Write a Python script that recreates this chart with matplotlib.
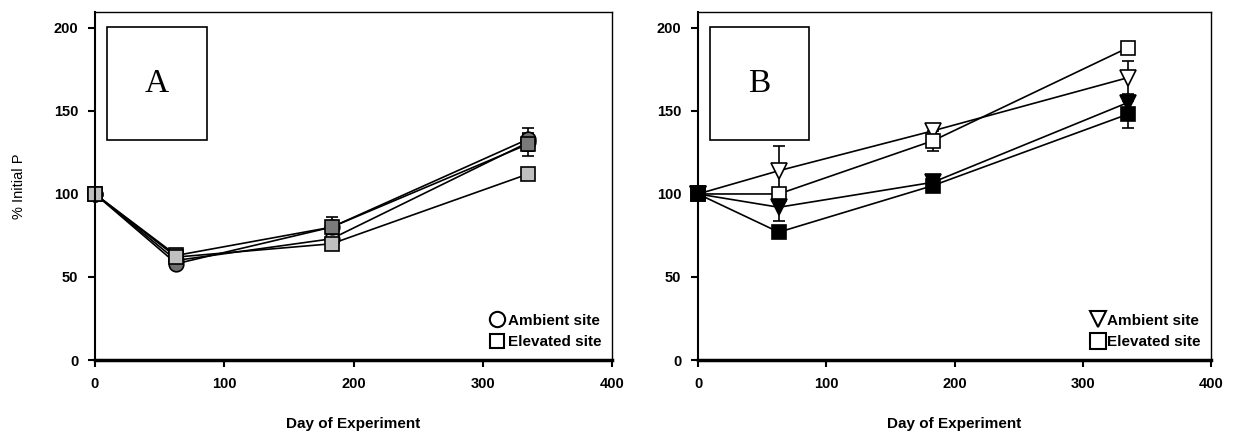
import matplotlib
matplotlib.use("Agg")
import matplotlib.pyplot as plt
from matplotlib.patches import Rectangle
from matplotlib.lines import Line2D

days = [0, 63, 183, 335]

# Panel A
a_circ_dark = [100, 58, 80, 133]
a_circ_dark_err = [0, 2, 3, 7]
a_circ_light = [100, 60, 73, 131]
a_circ_light_err = [0, 2, 2, 5]
a_sq_dark = [100, 63, 80, 130]
a_sq_dark_err = [0, 2, 6, 7]
a_sq_light = [100, 62, 70, 112]
a_sq_light_err = [0, 2, 2, 2]

# Panel B
b_tri_open = [100, 114, 138, 170]
b_tri_open_err = [0, 15, 2, 10]
b_sq_open = [100, 100, 132, 188]
b_sq_open_err = [0, 2, 6, 3]
b_tri_fill = [100, 92, 107, 155]
b_tri_fill_err = [0, 8, 2, 4]
b_sq_fill = [100, 77, 105, 148]
b_sq_fill_err = [0, 2, 2, 8]

xticks = [0, 100, 200, 300, 400]
yticks = [0, 50, 100, 150, 200]

fig = plt.figure(figsize=(12.33, 4.33), dpi=100)
axA = fig.add_axes([95/1233, 1-360/433, 517/1233, 348/433])
axB = fig.add_axes([698/1233, 1-360/433, 513/1233, 348/433])

tickfont = dict(family="Liberation Sans", weight="bold", size=10.5)

def style(ax):
    ax.set_xlim(0, 400)
    ax.set_ylim(0, 209.6)
    ax.set_xticks(xticks)
    ax.set_yticks(yticks)
    ax.set_xticklabels([str(t) for t in xticks], **tickfont)
    ax.set_yticklabels([str(t) for t in yticks], **tickfont)
    ax.tick_params(direction="out", length=5, width=1.5, pad=7, colors="black")
    for s in ["top", "right"]:
        ax.spines[s].set_linewidth(1.0)
    ax.spines["left"].set_linewidth(1.5)
    ax.spines["bottom"].set_linewidth(2.5)
    ax.set_xlabel("Day of Experiment", family="Liberation Sans", weight="bold", size=11, labelpad=19)

def series(ax, y, err, marker, fc, ms=10.5):
    ax.errorbar(days, y, yerr=err, color="black", lw=1.2, marker=marker, ms=ms,
                mfc=fc, mec="black", mew=1.2, capsize=4, elinewidth=1.2, capthick=1.2,
                clip_on=False)

style(axA)
style(axB)
axA.set_ylabel("% Initial P", family="Liberation Sans", size=10.5, labelpad=20)

series(axA, a_circ_light, a_circ_light_err, "o", "#c8c8c8")
series(axA, a_circ_dark, a_circ_dark_err, "o", "#707070")
series(axA, a_sq_dark, a_sq_dark_err, "s", "#7a7a7a")
series(axA, a_sq_light, a_sq_light_err, "s", "#c0c0c0")

series(axB, b_tri_open, b_tri_open_err, "v", "white", ms=11.5)
series(axB, b_sq_open, b_sq_open_err, "s", "white")
series(axB, b_tri_fill, b_tri_fill_err, "v", "black", ms=11.5)
series(axB, b_sq_fill, b_sq_fill_err, "s", "black")

for ax, lab in [(axA, "A"), (axB, "B")]:
    ax.add_patch(Rectangle((0.023, 0.632), 0.194, 0.325, transform=ax.transAxes,
                           fill=False, ec="black", lw=1.2, zorder=5))
    ax.text(0.12, 0.795, lab, transform=ax.transAxes, family="Liberation Serif",
            size=24, ha="center", va="center")

legfont = dict(family="Liberation Sans", weight="bold", size=11)
hA = [Line2D([], [], ls="none", marker="o", ms=11, mfc="white", mec="black", mew=1.5),
      Line2D([], [], ls="none", marker="s", ms=10, mfc="white", mec="black", mew=1.5)]
axA.legend(hA, ["Ambient site", "Elevated site"], loc="lower right", frameon=False,
           prop=legfont, handlelength=0.8, handletextpad=0.3, labelspacing=0.5,
           borderaxespad=0.3, bbox_to_anchor=(1.0, 0.0))
hB = [Line2D([], [], ls="none", marker="v", ms=12, mfc="white", mec="black", mew=1.5),
      Line2D([], [], ls="none", marker="s", ms=11, mfc="white", mec="black", mew=1.5)]
axB.legend(hB, ["Ambient site", "Elevated site"], loc="lower right", frameon=False,
           prop=legfont, handlelength=0.8, handletextpad=0.2, labelspacing=0.5,
           borderaxespad=0.3, bbox_to_anchor=(1.0, 0.0))

fig.savefig("out.png", dpi=100)
